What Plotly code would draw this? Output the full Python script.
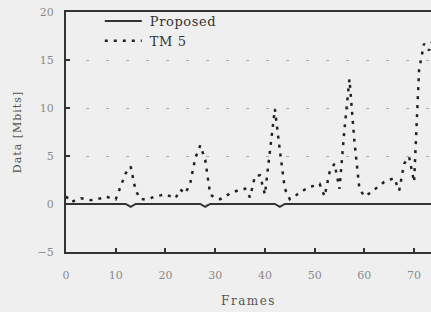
import plotly.graph_objects as go

frames = list(range(0, 75))
tm5 = [0.8, 0.2, 0.4, 0.6, 0.5, 0.4, 0.5, 0.6, 0.8, 0.6,
       0.5, 1.8, 3.2, 3.9, 1.4, 0.5, 0.5, 0.6, 0.8, 0.9,
       1.0, 0.8, 0.6, 1.5, 1.1, 2.2, 4.8, 6.1, 4.6, 1.0,
       0.6, 0.5, 0.8, 1.1, 1.3, 1.5, 1.6, 0.7, 2.9, 3.0,
       1.0, 5.4, 9.9, 5.6, 1.6, 0.5, 0.8, 1.2, 1.5, 1.8,
       1.9, 2.1, 0.8, 3.3, 4.2, 1.6, 7.8, 13.0, 6.5, 1.6,
       0.8, 1.1, 1.5, 1.9, 2.3, 2.5, 2.7, 1.4, 4.2, 4.9,
       2.3, 14.0, 16.7, 16.0, 17.5]
proposed = [0.0] * 75
for f in (13, 28, 43):
    proposed[f] = -0.3

x_ticks = [0, 10, 20, 30, 40, 50, 60, 70]
y_ticks = [-5, 0, 5, 10, 15, 20]

serif = "DejaVu Serif"
fig = go.Figure()
fig.add_trace(go.Scatter(x=frames, y=proposed, mode="lines", name="Proposed",
                         line=dict(color="#333333", width=2)))
fig.add_trace(go.Scatter(x=frames, y=tm5, mode="lines", name="TM 5",
                         line=dict(color="#222222", width=2.5, dash="3px,6px")))

fig.update_layout(
    width=431, height=312,
    margin=dict(l=66, r=0, t=12, b=60),
    paper_bgcolor="#efefef", plot_bgcolor="#efefef",
    font=dict(family=serif, size=11, color="#8a8a8a"),
    showlegend=True,
    legend=dict(x=0.12, y=1.025, xanchor="left", yanchor="top",
                bgcolor="rgba(0,0,0,0)", font=dict(family=serif, size=13, color="#333333"),
                tracegroupgap=0),
    xaxis=dict(range=[0, 73.4], tickvals=x_ticks, showgrid=False, zeroline=False,
               automargin=False,
               showline=True, linecolor="#333333", linewidth=2, mirror=True,
               ticks="inside", ticklen=4, tickwidth=2, tickcolor="#333333",
               ticklabelstandoff=12,
               title=dict(text="Frames", standoff=15,
                          font=dict(family=serif, size=12, color="#555555"))),
    yaxis=dict(range=[-5, 20], tickvals=y_ticks, showgrid=True, gridcolor="#aaaaaa",
               griddash="3px,17px", gridwidth=1, zeroline=False,
               automargin=False,
               showline=True, linecolor="#333333", linewidth=2,
               ticks="inside", ticklen=4, tickwidth=2, tickcolor="#333333",
               ticklabelstandoff=8,
               title=dict(text="Data [Mbits]", standoff=14,
                          font=dict(family=serif, size=11, color="#555555"))),
)

post = """
document.body.style.margin='0';
document.body.style.overflow='hidden';
document.querySelectorAll('.legendtext').forEach(function(e){e.style.letterSpacing='0.6px';});
document.querySelectorAll('.xtitle').forEach(function(e){e.style.letterSpacing='1.5px';});
document.querySelectorAll('.ytitle').forEach(function(e){e.style.letterSpacing='1px';});
document.querySelectorAll('.legendlines path').forEach(function(e){e.setAttribute('d','M-5,0h37');});
document.querySelectorAll('.legend .scrollbox, .legend').forEach(function(e){e.removeAttribute('clip-path');});
document.querySelectorAll('.legend [clip-path]').forEach(function(e){e.removeAttribute('clip-path');});
"""

fig.write_html("out.html", post_script=post, config={"displayModeBar": False})
